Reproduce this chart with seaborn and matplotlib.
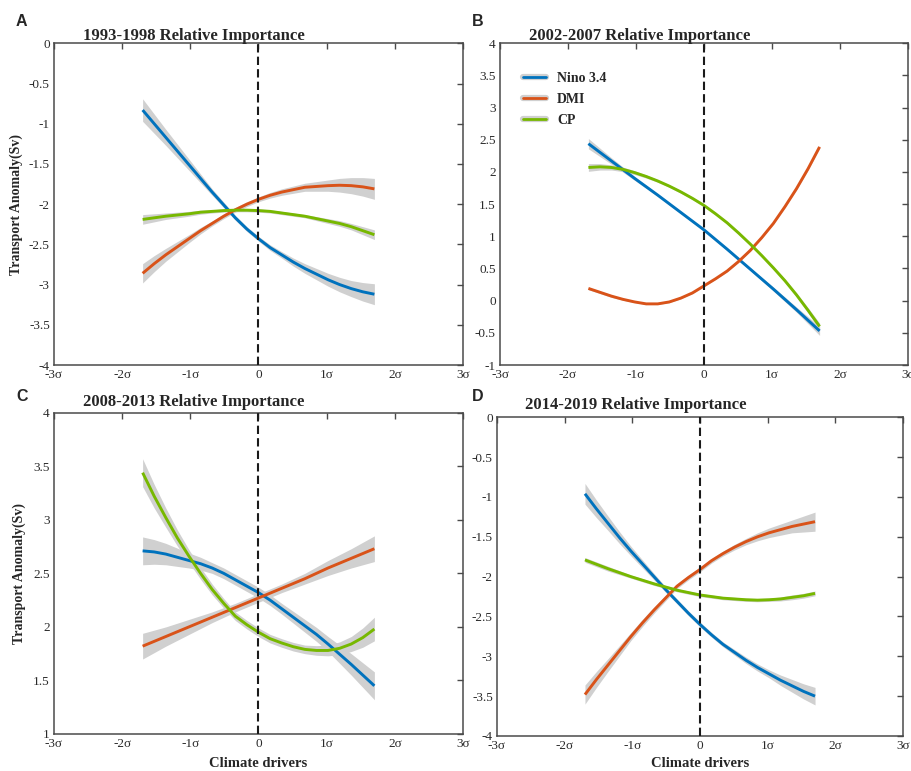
import matplotlib
matplotlib.use("Agg")
import numpy as np
import pandas as pd
import seaborn as sns
import matplotlib.pyplot as plt
import matplotlib.patheffects as pe
from matplotlib.lines import Line2D

# ---------------- data ----------------
X = [-1.7, -1.53, -1.36, -1.19, -1.02, -0.85, -0.68, -0.51, -0.34, -0.17, 0.0,
     0.17, 0.34, 0.51, 0.68, 0.85, 1.02, 1.19, 1.36, 1.53, 1.7]
drivers = ["Nino 3.4", "DMI", "CP"]
colors = ["#0072BD", "#D95319", "#77B800"]

titles = ["1993-1998 Relative Importance", "2002-2007 Relative Importance",
          "2008-2013 Relative Importance", "2014-2019 Relative Importance"]
letters = ["A", "B", "C", "D"]

xtick_vals = [-3, -2, -1, 0, 1, 2, 3]
xtick_labels = ["-3σ", "-2σ", "-1σ", "0", "1σ", "2σ", "3σ"]

# Panel A (1993-1998)
nino_A = [-0.83, -1.00, -1.17, -1.34, -1.51, -1.68, -1.85, -2.01, -2.17, -2.31, -2.43,
          -2.54, -2.63, -2.72, -2.80, -2.87, -2.94, -3.00, -3.05, -3.09, -3.12]
dmi_A = [-2.86, -2.74, -2.63, -2.53, -2.43, -2.33, -2.24, -2.15, -2.07, -2.00, -1.94,
         -1.89, -1.85, -1.82, -1.79, -1.78, -1.77, -1.765, -1.77, -1.785, -1.81]
cp_A = [-2.19, -2.17, -2.15, -2.135, -2.12, -2.10, -2.09, -2.08, -2.075, -2.075, -2.08,
        -2.09, -2.11, -2.13, -2.15, -2.18, -2.21, -2.24, -2.28, -2.33, -2.38]
nino_A_ci = [0.14, 0.12, 0.10, 0.085, 0.07, 0.055, 0.04, 0.035, 0.03, 0.03, 0.03,
             0.035, 0.04, 0.05, 0.06, 0.07, 0.08, 0.09, 0.10, 0.115, 0.13]
dmi_A_ci = [0.12, 0.10, 0.08, 0.065, 0.05, 0.04, 0.03, 0.03, 0.03, 0.03, 0.03,
            0.035, 0.04, 0.045, 0.05, 0.06, 0.07, 0.085, 0.10, 0.115, 0.13]
cp_A_ci = [0.06, 0.05, 0.04, 0.035, 0.03, 0.025, 0.02, 0.02, 0.02, 0.02, 0.02,
           0.02, 0.02, 0.02, 0.02, 0.025, 0.03, 0.035, 0.04, 0.05, 0.06]

# Panel B (2002-2007)
nino_B = [2.44, 2.305, 2.17, 2.035, 1.90, 1.77, 1.64, 1.505, 1.37, 1.235, 1.10,
          0.95, 0.80, 0.645, 0.49, 0.335, 0.18, 0.02, -0.14, -0.305, -0.47]
dmi_B = [0.19, 0.13, 0.07, 0.02, -0.02, -0.05, -0.05, -0.02, 0.04, 0.12, 0.23,
         0.34, 0.46, 0.61, 0.78, 0.98, 1.20, 1.46, 1.74, 2.05, 2.39]
cp_B = [2.07, 2.08, 2.07, 2.04, 1.99, 1.93, 1.86, 1.78, 1.69, 1.59, 1.48,
        1.35, 1.21, 1.05, 0.88, 0.70, 0.51, 0.31, 0.09, -0.15, -0.40]
nino_B_ci = [0.08, 0.065, 0.05, 0.04, 0.03, 0.025, 0.02, 0.02, 0.02, 0.02, 0.02,
             0.02, 0.02, 0.02, 0.02, 0.025, 0.03, 0.035, 0.04, 0.055, 0.07]
dmi_B_ci = [0.02, 0.02, 0.02, 0.015, 0.01, 0.01, 0.01, 0.01, 0.01, 0.01, 0.01,
            0.01, 0.01, 0.01, 0.01, 0.01, 0.01, 0.015, 0.02, 0.02, 0.02]
cp_B_ci = [0.06, 0.05, 0.04, 0.035, 0.03, 0.025, 0.02, 0.02, 0.02, 0.02, 0.02,
           0.02, 0.02, 0.02, 0.02, 0.02, 0.02, 0.025, 0.03, 0.04, 0.05]

# Panel C (2008-2013)
nino_C = [2.71, 2.70, 2.68, 2.65, 2.62, 2.59, 2.55, 2.50, 2.44, 2.38, 2.32,
          2.25, 2.17, 2.09, 2.01, 1.93, 1.84, 1.745, 1.65, 1.55, 1.45]
dmi_C = [1.82, 1.865, 1.91, 1.955, 2.00, 2.045, 2.09, 2.135, 2.18, 2.225, 2.27,
         2.315, 2.36, 2.405, 2.45, 2.50, 2.55, 2.595, 2.64, 2.685, 2.73]
cp_C = [3.44, 3.22, 3.02, 2.83, 2.66, 2.50, 2.35, 2.22, 2.10, 2.02, 1.95,
        1.89, 1.85, 1.815, 1.79, 1.78, 1.78, 1.80, 1.84, 1.90, 1.98]
nino_C_ci = [0.13, 0.115, 0.10, 0.085, 0.07, 0.06, 0.05, 0.05, 0.05, 0.05, 0.05,
             0.05, 0.05, 0.055, 0.06, 0.065, 0.07, 0.085, 0.10, 0.115, 0.13]
dmi_C_ci = [0.12, 0.105, 0.09, 0.08, 0.07, 0.06, 0.05, 0.045, 0.04, 0.04, 0.04,
            0.04, 0.04, 0.045, 0.05, 0.06, 0.07, 0.08, 0.09, 0.105, 0.12]
cp_C_ci = [0.13, 0.11, 0.09, 0.075, 0.06, 0.055, 0.05, 0.045, 0.04, 0.04, 0.04,
           0.04, 0.04, 0.04, 0.04, 0.045, 0.05, 0.06, 0.07, 0.09, 0.11]

# Panel D (2014-2019)
nino_D = [-0.96, -1.15, -1.33, -1.51, -1.68, -1.84, -2.00, -2.16, -2.31, -2.46, -2.60,
          -2.73, -2.85, -2.95, -3.05, -3.14, -3.22, -3.30, -3.37, -3.44, -3.50]
dmi_D = [-3.48, -3.29, -3.11, -2.93, -2.75, -2.58, -2.42, -2.27, -2.12, -2.01, -1.91,
         -1.80, -1.71, -1.63, -1.56, -1.50, -1.45, -1.41, -1.37, -1.34, -1.31]
cp_D = [-1.79, -1.845, -1.90, -1.95, -2.00, -2.045, -2.09, -2.13, -2.17, -2.20, -2.23,
        -2.25, -2.27, -2.28, -2.29, -2.295, -2.29, -2.28, -2.26, -2.24, -2.21]
nino_D_ci = [0.13, 0.11, 0.09, 0.075, 0.06, 0.05, 0.04, 0.035, 0.03, 0.03, 0.03,
             0.03, 0.03, 0.035, 0.04, 0.045, 0.05, 0.065, 0.08, 0.095, 0.11]
dmi_D_ci = [0.12, 0.10, 0.08, 0.065, 0.05, 0.045, 0.04, 0.035, 0.03, 0.03, 0.03,
            0.03, 0.03, 0.035, 0.04, 0.05, 0.06, 0.07, 0.08, 0.10, 0.12]
cp_D_ci = [0.03, 0.03, 0.03, 0.025, 0.02, 0.02, 0.02, 0.02, 0.02, 0.02, 0.02,
           0.02, 0.02, 0.02, 0.02, 0.02, 0.02, 0.025, 0.03, 0.03, 0.03]

panels = [
    ([nino_A, dmi_A, cp_A], [nino_A_ci, dmi_A_ci, cp_A_ci], (-4, 0)),
    ([nino_B, dmi_B, cp_B], [nino_B_ci, dmi_B_ci, cp_B_ci], (-1, 4)),
    ([nino_C, dmi_C, cp_C], [nino_C_ci, dmi_C_ci, cp_C_ci], (1, 4)),
    ([nino_D, dmi_D, cp_D], [nino_D_ci, dmi_D_ci, cp_D_ci], (-4, 0)),
]

# ---------------- style ----------------
sns.set_theme(style="white")
plt.rcParams["font.family"] = ["Liberation Serif", "DejaVu Sans"]
plt.rcParams["axes.linewidth"] = 1.1

fig = plt.figure(figsize=(9.12, 7.71), dpi=100)
W, H = 912.0, 771.0
# (left, top, right, bottom) in pixels
boxes = [(54, 43.3, 463, 365), (500, 43.3, 908, 365),
         (54, 412.7, 463, 734), (497, 417.3, 903, 736)]
title_off = [1.01, 1.01, 1.02, 1.027]
letter_pos = [(16, 14), (472, 14), (16, 389), (472, 389)]
ylabel_x = {0: -0.076, 2: -0.068}
xlabel_y = {2: -0.072, 3: -0.066}
spine_col = "#4a4a4a"

palette = dict(zip(drivers, colors))

for i, (ys, cis, ylim) in enumerate(panels):
    l, t, r, b = boxes[i]
    ax = fig.add_axes([l / W, 1 - b / H, (r - l) / W, (b - t) / H])
    xs = np.array(X)
    for y, ci in zip(ys, cis):
        y = np.array(y); ci = np.array(ci)
        ax.fill_between(xs, y - ci, y + ci, color="#d0d0d0", lw=0, zorder=1)
    df = pd.DataFrame({
        "x": X * 3,
        "y": ys[0] + ys[1] + ys[2],
        "driver": [d for d in drivers for _ in X],
    })
    sns.lineplot(data=df, x="x", y="y", hue="driver", palette=palette,
                 linewidth=2.1, legend=False, ax=ax, sort=False,
                 estimator=None, zorder=3)
    for ln in ax.get_lines():
        ln.set_solid_capstyle("butt")
        ln.set_solid_joinstyle("round")
    ax.axvline(0, color="#1a1a1a", lw=1.5, ls=(0, (4, 2)), zorder=4)
    ax.set_xlim(-3, 3)
    ax.set_ylim(*ylim)
    ax.set_xticks(xtick_vals)
    ax.set_xticklabels(xtick_labels)
    yt = np.arange(ylim[0], ylim[1] + 0.01, 0.5)
    ax.set_yticks(yt)
    ax.set_yticklabels([f"{v:g}" for v in yt])
    ax.tick_params(direction="in", length=4, width=1, top=True, right=True,
                   labelsize=9.5, pad=3, colors=spine_col, labelcolor="#2a2a2a")
    for s in ax.spines.values():
        s.set_visible(True)
        s.set_color(spine_col)
    ax.text(0.07, title_off[i], titles[i], transform=ax.transAxes,
            fontsize=12, fontweight="bold", ha="left", va="baseline")
    if i in (0, 2):
        ax.set_ylabel("Transport Anomaly(Sv)", fontsize=10, fontweight="bold")
        ax.yaxis.set_label_coords(ylabel_x[i], 0.5)
    else:
        ax.set_ylabel("")
    if i in (2, 3):
        ax.set_xlabel("Climate drivers", fontsize=10.5, fontweight="bold")
        ax.xaxis.set_label_coords(0.5, xlabel_y[i])
    else:
        ax.set_xlabel("")
    lx, ly = letter_pos[i]
    fig.text(lx / W, 1 - ly / H, letters[i], fontsize=11.5, fontweight="bold",
             family=["Liberation Sans", "DejaVu Sans"], ha="left", va="top")
    if i == 1:
        handles = [Line2D([0], [0], color=c, lw=2,
                          path_effects=[pe.Stroke(linewidth=4.5, foreground="#d0d0d0"),
                                        pe.Normal()]) for c in colors]
        ax.legend(handles, drivers, loc="upper left",
                  bbox_to_anchor=(0.056, 0.91), frameon=False,
                  borderaxespad=0, borderpad=0, handlelength=1.65,
                  handletextpad=0.8, labelspacing=0.55,
                  prop={"weight": "bold", "size": 10})

fig.savefig("out.png", dpi=100)
